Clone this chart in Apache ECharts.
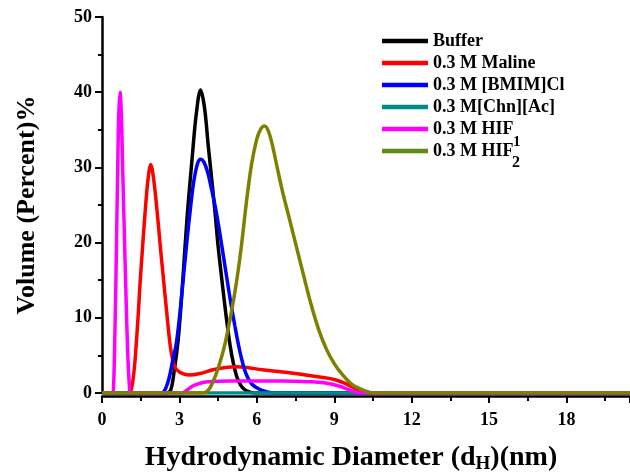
<!DOCTYPE html>
<html>
<head>
<meta charset="utf-8">
<script src="https://cdn.jsdelivr.net/npm/echarts@6/dist/echarts.min.js"></script>
<style>html,body{margin:0;padding:0;background:#fff}#c{width:630px;height:473px}</style>
</head>
<body>
<div id="c"></div>
<script>
var seriesNames = ['Buffer', '0.3 M Maline', '0.3 M [BMIM]Cl', '0.3 M[Chn][Ac]', '0.3 M HIF', '0.3 M HIF12'];
var seriesColors = ['#000000', '#ff0000', '#0000ff', '#008b8b', '#ff00ff', '#808000'];
var xTicks = [0, 3, 6, 9, 12, 15, 18];
var yTicks = [0, 10, 20, 30, 40, 50];

var bufferX = [0, 2.45, 2.65, 2.8, 2.95, 3.1, 3.3, 3.5, 3.65, 3.82, 3.97, 4.12, 4.25, 4.38, 4.5, 4.64, 4.8, 4.96, 5.1, 5.24, 5.4, 5.6, 5.9, 20.46];
var bufferY = [0, 0, 0.3, 3, 7, 13.5, 23.5, 31.5, 37, 40.3, 38, 32.8, 28.5, 24, 19.5, 15.2, 10.5, 6.4, 3.8, 2, 0.9, 0.3, 0, 0];

var malineX = [0, 1.05, 1.15, 1.25, 1.32, 1.4, 1.47, 1.57, 1.67, 1.78, 1.89, 2.0, 2.14, 2.26, 2.38, 2.5, 2.64, 2.75, 2.85, 3.0, 3.2, 3.4, 3.8, 4.3, 4.8, 5.2, 5.6, 6.2, 7.0, 7.9, 8.5, 9.0, 9.4, 9.7, 10.0, 10.2, 20.46];
var malineY = [0, 0, 0.7, 3.2, 6.2, 10.2, 14.3, 19.3, 24, 28.3, 30.4, 28.5, 24, 19.5, 15.2, 11, 6.4, 4.2, 3.3, 2.8, 2.5, 2.4, 2.6, 3.1, 3.4, 3.5, 3.4, 3.1, 2.8, 2.4, 2.1, 1.8, 1.3, 0.8, 0.3, 0, 0];

var bmimX = [0, 2.3, 2.45, 2.6, 2.75, 2.87, 3.0, 3.15, 3.3, 3.41, 3.55, 3.7, 3.82, 3.95, 4.1, 4.25, 4.4, 4.55, 4.7, 4.85, 5.0, 5.15, 5.3, 5.45, 5.6, 5.8, 6.1, 6.4, 6.7, 20.46];
var bmimY = [0, 0, 0.5, 2, 4.5, 6.4, 10, 15.2, 20.5, 24, 28, 30.5, 31.1, 30.7, 29.3, 27.0, 24.6, 21.6, 18.3, 15.0, 11.8, 8.9, 6.2, 4.0, 2.4, 1.2, 0.5, 0.15, 0, 0];

var chnX = [0, 4, 7, 10, 20.46];
var chnY = [0, 0, 0, 0, 0];

var hifX = [0, 0.4, 0.45, 0.5, 0.54, 0.6, 0.65, 0.7, 0.75, 0.8, 0.86, 0.93, 1.0, 1.06, 1.1, 3.1, 3.3, 3.5, 3.8, 4.1, 5, 6, 7, 8, 8.6, 9.2, 9.6, 10, 20.46];
var hifY = [0, 0, 1, 8, 15.2, 28, 37, 40, 37, 30, 22, 13, 5, 1, 0, 0, 0.4, 0.9, 1.3, 1.5, 1.6, 1.6, 1.6, 1.5, 1.35, 0.9, 0.4, 0, 0];

var hif12X = [0, 3.9, 4.1, 4.3, 4.5, 4.75, 5.0, 5.2, 5.4, 5.6, 5.8, 6.0, 6.15, 6.3, 6.45, 6.6, 6.8, 7.0, 7.2, 7.5, 7.8, 8.1, 8.4, 8.7, 9.0, 9.3, 9.7, 10.1, 10.5, 20.46];
var hif12Y = [0, 0, 0.3, 1.5, 3.3, 6.3, 10.5, 14.5, 19.5, 25.5, 30.5, 33.8, 35.1, 35.5, 34.8, 33.0, 29.8, 26.7, 24.0, 19.9, 15.8, 11.8, 8.4, 5.8, 3.9, 2.5, 1.1, 0.4, 0, 0];

var xs = [bufferX, malineX, bmimX, chnX, hifX, hif12X];
var ys = [bufferY, malineY, bmimY, chnY, hifY, hif12Y];

function pairs(a, b) { var r = []; for (var i = 0; i < a.length; i++) r.push([a[i], b[i]]); return r; }

var FONT = '"Liberation Serif", "Times New Roman", serif';
var series = seriesNames.map(function (n, i) {
  return {
    name: n, type: 'line', data: pairs(xs[i], ys[i]),
    showSymbol: false, symbol: 'none', smooth: 0.35,
    lineStyle: { color: seriesColors[i], width: 3.5 },
    itemStyle: { color: seriesColors[i] },
    z: 2 + i
  };
});

var chart = echarts.init(document.getElementById('c'), null, { renderer: 'canvas' });
chart.setOption({
  animation: false,
  backgroundColor: '#ffffff',
  grid: { left: 102, right: 0, top: 17, bottom: 80, containLabel: false, outerBoundsMode: 'none' },
  xAxis: {
    type: 'value', min: 0, max: 20.46, interval: 3, offset: 3,
    name: 'Hydrodynamic Diameter (d{sub|H})(nm)', nameLocation: 'middle', nameGap: 45,
    nameTextStyle: { fontFamily: FONT, fontWeight: 'bold', fontSize: 28, color: '#000', padding: [0, 30, 0, 0],
      rich: { sub: { fontFamily: FONT, fontWeight: 'bold', fontSize: 19, verticalAlign: 'bottom', padding: [14, 0, 0, 0] } } },
    axisLine: { show: true, onZero: false, lineStyle: { color: '#000', width: 2.5 } },
    axisTick: { show: true, inside: false, length: 7, lineStyle: { color: '#000', width: 2 } },
    minorTick: { show: true, splitNumber: 2, length: 5, lineStyle: { color: '#000', width: 2 } },
    axisLabel: { fontFamily: FONT, fontWeight: 'bold', fontSize: 18, color: '#000', margin: 15,
      formatter: function (v) { return xTicks.indexOf(v) >= 0 ? String(v) : ''; } },
    splitLine: { show: false }
  },
  yAxis: {
    type: 'value', min: 0, max: 50, interval: 10,
    name: 'Volume (Percent)%', nameLocation: 'middle', nameGap: 62, nameRotate: 90,
    nameTextStyle: { fontFamily: FONT, fontWeight: 'bold', fontSize: 26, color: '#000' },
    axisLine: { show: true, onZero: false, lineStyle: { color: '#000', width: 2.5 } },
    axisTick: { show: true, inside: false, length: 7, lineStyle: { color: '#000', width: 2 } },
    minorTick: { show: true, splitNumber: 2, length: 4, lineStyle: { color: '#000', width: 2 } },
    axisLabel: { fontFamily: FONT, fontWeight: 'bold', fontSize: 18, color: '#000', margin: 10,
      formatter: function (v) { return yTicks.indexOf(v) >= 0 ? String(v) : ''; } },
    splitLine: { show: false }
  },
  legend: {
    orient: 'vertical', left: 377, top: 27,
    icon: 'rect', itemWidth: 46, itemHeight: 4.5, itemGap: 4,
    data: seriesNames.map(function (n, i) {
      return i === 5 ? { name: n, itemStyle: { color: '#5f8a16' } } : { name: n };
    }),
    formatter: function (n) { return n === '0.3 M HIF12' ? '0.3 M HIF' : n; },
    textStyle: { fontFamily: FONT, fontWeight: 'bold', fontSize: 18, color: '#000', lineHeight: 18 }
  },
  graphic: [
    { type: 'text', left: 513, top: 135, style: { text: '1', font: 'bold 15px ' + FONT, fill: '#000' } },
    { type: 'text', left: 512, top: 155, style: { text: '2', font: 'bold 16px ' + FONT, fill: '#000' } }
  ],
  series: series
});
</script>
</body>
</html>
